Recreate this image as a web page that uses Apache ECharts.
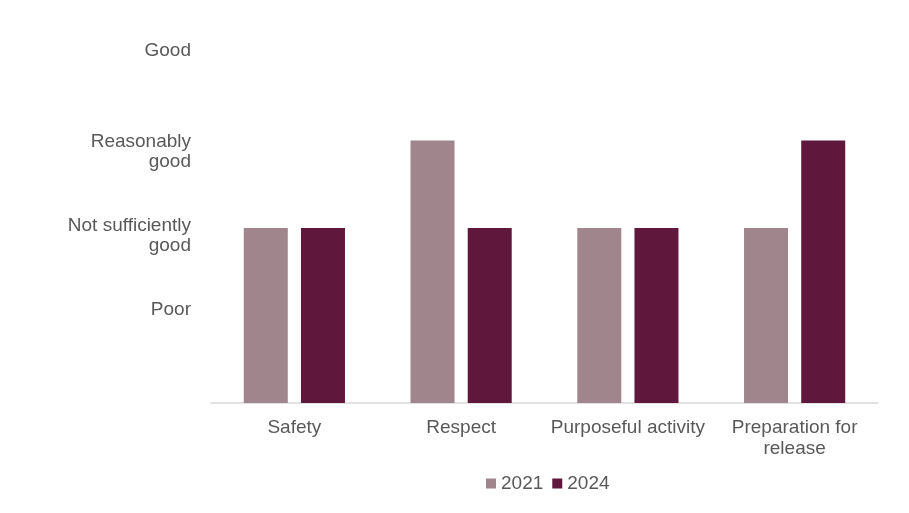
<!DOCTYPE html>
<html><head><meta charset="utf-8">
<script src="https://cdn.jsdelivr.net/npm/echarts@6/dist/echarts.min.js"></script>
<style>html,body{margin:0;padding:0;background:#fff}#c{width:909px;height:513px}</style>
</head><body><div id="c"></div>
<script>
const categories = ['Safety', 'Respect', 'Purposeful activity', 'Preparation for release'];
const ratingLabels = ['', 'Poor', 'Not sufficiently\ngood', 'Reasonably\ngood', 'Good'];
const series2021 = [2, 3, 2, 2];
const series2024 = [2, 2, 2, 3];
const seriesNames = ['2021', '2024'];

const chart = echarts.init(document.getElementById('c'));
const txt = '#595959';
const font = 'Liberation Sans, Arial, sans-serif';
// vertical nudge of each rating label (px, + is down) to mimic the original placement
const labelShift = [0, -6, 8, 11, -2];
function yLabel(v) {
  const s = ratingLabels[v];
  if (!s) return '';
  const lines = s.split('\n').map(l => '{t|' + l + '}');
  const d = labelShift[v] || 0;
  if (d > 0) return '{s' + d + '| }\n' + lines.join('\n');
  if (d < 0) return lines.join('\n') + '\n{s' + (-d) + '| }';
  return lines.join('\n');
}
const rich = { t: { fontSize: 19, lineHeight: 20, color: txt, fontFamily: font, align: 'right' } };
labelShift.forEach(d => { const a = Math.abs(d); if (a) rich['s' + a] = { fontSize: 1, lineHeight: 2 * a, height: 2 * a }; });

chart.setOption({
  animation: false,
  textStyle: { fontFamily: font },
  grid: { left: 211, right: 31, top: 53, bottom: 110 },
  legend: {
    data: seriesNames, top: 474, left: 486, padding: 0,
    itemWidth: 10, itemHeight: 10, itemGap: 9,
    textStyle: { color: txt, fontSize: 19, fontFamily: font },
    icon: 'rect'
  },
  xAxis: {
    type: 'category', data: categories,
    axisLine: { lineStyle: { color: '#d9d9d9', width: 1.5 } },
    axisTick: { show: false },
    axisLabel: {
      color: txt, fontSize: 19, lineHeight: 21, margin: 14, interval: 0,
      formatter: v => v === 'Preparation for release' ? 'Preparation for\nrelease' : v
    }
  },
  yAxis: {
    type: 'value', min: 0, max: 4, interval: 1,
    axisLine: { show: false }, axisTick: { show: false }, splitLine: { show: false },
    axisLabel: {
      color: txt, fontSize: 19, lineHeight: 20, margin: 20, align: 'right',
      formatter: yLabel, rich: rich
    }
  },
  series: [
    { name: seriesNames[0], type: 'bar', data: series2021, barWidth: 44, barGap: '30%', itemStyle: { color: '#A0858C' } },
    { name: seriesNames[1], type: 'bar', data: series2024, barWidth: 44, itemStyle: { color: '#5F183B' } }
  ]
});
</script></body></html>
